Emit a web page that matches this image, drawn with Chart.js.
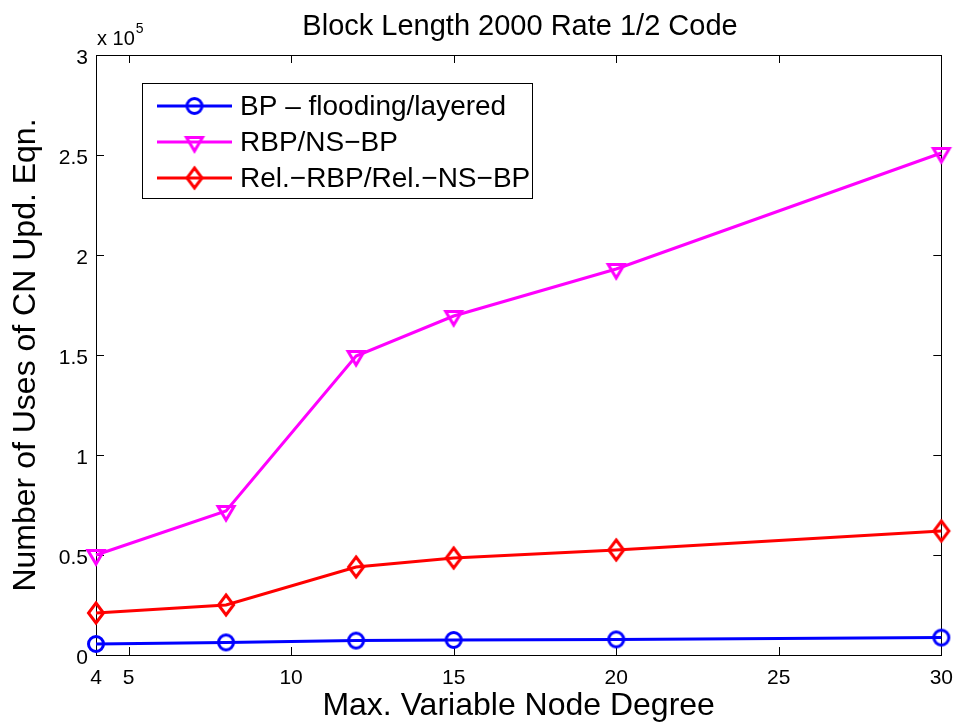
<!DOCTYPE html>
<html>
<head>
<meta charset="utf-8">
<script src="https://cdn.jsdelivr.net/npm/chart.js@4/dist/chart.umd.min.js"></script>
<style>
  html, body { margin: 0; padding: 0; background: #ffffff; }
  #wrap { width: 964px; height: 726px; }
</style>
</head>
<body>
<div id="wrap"><canvas id="c" width="964" height="726"></canvas></div>
<script>
// Max. variable node degree of each code
const degrees = [4, 8, 12, 15, 20, 30];
// Number of uses of the CN update equation per decoder
const bpUses  = [5500, 6300, 7200, 7500, 7800, 8700];
const rbpUses = [50000, 72000, 149500, 169500, 193000, 251000];
const relUses = [21000, 25000, 44000, 48500, 52500, 62000];

const seriesNames = ['BP \u2013 flooding/layered', 'RBP/NS\u2212BP', 'Rel.\u2212RBP/Rel.\u2212NS\u2212BP'];
const xTickValues = [4, 5, 10, 15, 20, 25, 30];
const yScaleExp = 5;

const FONT = '"Liberation Sans", Arial, Helvetica, sans-serif';

// Hollow marker glyphs, centred on the data point
function makeMarker(kind, color) {
  const size = 30;
  const cv = document.createElement('canvas');
  cv.width = size; cv.height = size;
  const g = cv.getContext('2d');
  g.translate(size / 2, size / 2);
  g.strokeStyle = color;
  g.lineWidth = 3;
  g.lineJoin = 'miter';
  g.beginPath();
  if (kind === 'circle') {
    g.arc(0, 0, 7.5, 0, Math.PI * 2);
  } else if (kind === 'triangleDown') {
    g.moveTo(-8, -4.5);
    g.lineTo(8, -4.5);
    g.lineTo(0, 9);
    g.closePath();
  } else if (kind === 'diamond') {
    g.moveTo(0, -10);
    g.lineTo(7.5, 0);
    g.lineTo(0, 10);
    g.lineTo(-7.5, 0);
    g.closePath();
  }
  g.stroke();
  return cv;
}

const colors = ['#0000ff', '#ff00ff', '#ff0000'];
const markers = [
  makeMarker('circle', colors[0]),
  makeMarker('triangleDown', colors[1]),
  makeMarker('diamond', colors[2])
];

function toPoints(ys) { return degrees.map((d, i) => ({ x: d, y: ys[i] })); }

const datasets = [bpUses, rbpUses, relUses].map((ys, i) => ({
  label: seriesNames[i],
  data: toPoints(ys),
  borderColor: colors[i],
  backgroundColor: colors[i],
  borderWidth: 3,
  pointStyle: markers[i],
  pointRadius: 9,
  tension: 0,
  clip: false
}));

// Axes box with inward ticks on all four sides
const framePlugin = {
  id: 'frame',
  beforeDatasetsDraw(chart) {
    const { ctx, chartArea: a, scales } = chart;
    ctx.save();
    ctx.strokeStyle = '#000000';
    ctx.lineWidth = 1;
    ctx.strokeRect(Math.round(a.left) + 0.5, Math.round(a.top) + 0.5,
                   Math.round(a.right - a.left), Math.round(a.bottom - a.top));
    const tl = 8;
    ctx.beginPath();
    xTickValues.forEach(v => {
      const px = Math.round(scales.x.getPixelForValue(v)) + 0.5;
      ctx.moveTo(px, a.bottom); ctx.lineTo(px, a.bottom - tl);
      ctx.moveTo(px, a.top); ctx.lineTo(px, a.top + tl);
    });
    scales.y.ticks.forEach(t => {
      const py = Math.round(scales.y.getPixelForValue(t.value)) + 0.5;
      ctx.moveTo(a.left, py); ctx.lineTo(a.left + tl, py);
      ctx.moveTo(a.right, py); ctx.lineTo(a.right - tl, py);
    });
    ctx.stroke();
    ctx.restore();
  }
};

// Title, exponent note and legend box
const annotPlugin = {
  id: 'annot',
  afterDraw(chart) {
    const { ctx, chartArea: a } = chart;
    ctx.save();
    ctx.fillStyle = '#000000';
    ctx.textBaseline = 'alphabetic';

    ctx.font = '29px ' + FONT;
    ctx.textAlign = 'center';
    ctx.fillText('Block Length 2000 Rate 1/2 Code', 520, 35);

    ctx.textAlign = 'left';
    ctx.font = '20px ' + FONT;
    ctx.fillText('x 10', a.left + 1, 45);
    const w = ctx.measureText('x 10').width;
    ctx.font = '14px ' + FONT;
    ctx.fillText(String(yScaleExp), a.left + 2 + w, 33);

    // legend
    const bx = 142, by = 83, bw = 390, bh = 115;
    ctx.fillStyle = '#ffffff';
    ctx.fillRect(bx, by, bw, bh);
    ctx.strokeStyle = '#000000';
    ctx.lineWidth = 1;
    ctx.strokeRect(bx + 0.5, by + 0.5, bw, bh);
    const rowY = [106, 142, 178];
    chart.data.datasets.forEach((ds, i) => {
      const y = rowY[i];
      ctx.strokeStyle = ds.borderColor;
      ctx.lineWidth = 3;
      ctx.beginPath();
      ctx.moveTo(157, y); ctx.lineTo(232, y);
      ctx.stroke();
      const m = ds.pointStyle;
      ctx.drawImage(m, 194.5 - m.width / 2, y - m.height / 2);
      ctx.fillStyle = '#000000';
      ctx.font = '28px ' + FONT;
      ctx.textBaseline = 'middle';
      ctx.fillText(ds.label, 240, y + 1);
    });
    ctx.restore();
  }
};

new Chart(document.getElementById('c'), {
  type: 'line',
  data: { datasets },
  options: {
    responsive: false,
    animation: false,
    events: [],
    layout: { padding: { top: 55, right: 20, left: 0, bottom: 0 } },
    plugins: { legend: { display: false }, title: { display: false }, tooltip: { enabled: false } },
    scales: {
      x: {
        type: 'linear',
        min: 4, max: 30,
        grid: { display: false, drawTicks: false },
        border: { display: false },
        afterBuildTicks(scale) { scale.ticks = xTickValues.map(v => ({ value: v })); },
        afterFit(scale) { scale.height = 71; },
        ticks: {
          autoSkip: false, maxRotation: 0, minRotation: 0,
          padding: 11, color: '#000000',
          font: { family: FONT, size: 21 },
          callback: v => String(v)
        },
        title: {
          display: true, text: 'Max. Variable Node Degree', color: '#000000',
          font: { family: FONT, size: 32 },
          padding: { top: 0, bottom: 1 }
        }
      },
      y: {
        type: 'linear',
        min: 0, max: 300000,
        grid: { display: false, drawTicks: false },
        border: { display: false },
        afterFit(scale) { scale.width = 96; },
        ticks: {
          stepSize: 50000, padding: 8, color: '#000000',
          labelOffset: 3,
          font: { family: FONT, size: 21 },
          callback: v => String(v / Math.pow(10, yScaleExp))
        },
        title: {
          display: true, text: 'Number of Uses of CN Upd. Eqn.', color: '#000000',
          font: { family: FONT, size: 32 },
          padding: { top: 7, bottom: 0 }
        }
      }
    }
  },
  plugins: [framePlugin, annotPlugin]
});
</script>
</body>
</html>
